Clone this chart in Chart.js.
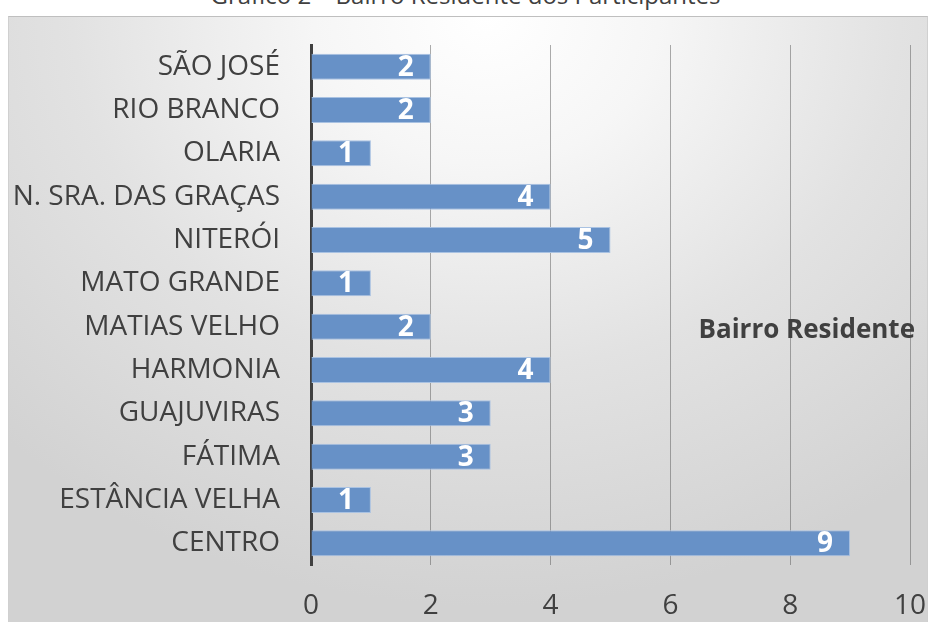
<!DOCTYPE html>
<html>
<head>
<meta charset="utf-8">
<script src="https://cdn.jsdelivr.net/npm/chart.js@4"></script>
<style>
  html, body { margin:0; padding:0; width:931px; height:622px; overflow:hidden; background:#fff; }
  #titulo { position:absolute; left:0; width:931px; top:-22px; text-align:center;
    font-family:"Open Sans", sans-serif; font-size:24px; color:#404040; }
  #fundo { position:absolute; left:8px; top:16px; width:918px; height:620px;
    border-top:1px solid #bfbfbf; border-left:1px solid #d0d0d0; border-right:1px solid #d0d0d0;
    background: radial-gradient(ellipse 75% 95% at 52% 0%, #ffffff 0%, #f6f6f6 25%, #e2e2e2 60%, #d2d2d2 100%); }
  #wrap { position:absolute; left:0; top:0; width:931px; height:622px; }
</style>
</head>
<body>
<div id="titulo">Gráfico 2 – Bairro Residente dos Participantes</div>
<div id="fundo"></div>
<div id="wrap"><canvas id="grafico"></canvas></div>
<script>
document.addEventListener('DOMContentLoaded', function(){

  // dados
  const bairros = [
    'SÃO JOSÉ',
    'RIO BRANCO',
    'OLARIA',
    'N. SRA. DAS GRAÇAS',
    'NITERÓI',
    'MATO GRANDE',
    'MATIAS VELHO',
    'HARMONIA',
    'GUAJUVIRAS',
    'FÁTIMA',
    'ESTÂNCIA VELHA',
    'CENTRO'
  ];
  const participantes = [2, 2, 1, 4, 5, 1, 2, 4, 3, 3, 1, 9];
  const serieNome = 'Bairro Residente';
  const eixoMin = 0, eixoMax = 10, eixoPasso = 2;

  // rotulos dentro das barras + legenda
  const rotulos = {
    id: 'rotulos',
    afterDatasetsDraw(chart){
      const ctx = chart.ctx;
      const meta = chart.getDatasetMeta(0);
      ctx.save();
      ctx.fillStyle = '#ffffff';
      ctx.font = 'bold 28px "Open Sans", sans-serif';
      ctx.textAlign = 'right';
      ctx.textBaseline = 'middle';
      meta.data.forEach((bar, i) => {
        ctx.fillText(chart.data.datasets[0].data[i], bar.x - 17, bar.y + 1);
      });
      const a = chart.chartArea;
      ctx.fillStyle = '#404040';
      ctx.font = 'bold 26px "Open Sans", sans-serif';
      ctx.fillText(chart.data.datasets[0].label, a.right + 5, a.top + (a.bottom - a.top) * 0.55);
      ctx.restore();
    }
  };

  const config = {
    type: 'bar',
    data: {
      labels: bairros,
      datasets: [{
        label: serieNome,
        data: participantes,
        backgroundColor: '#6791c7',
        borderColor: '#a9c2e2',
        borderWidth: 1,
        categoryPercentage: 0.6,
        barPercentage: 1
      }]
    },
    options: {
      indexAxis: 'y',
      responsive: true,
      maintainAspectRatio: false,
      animation: false,
      layout: { padding: { left: 0, right: 21, top: 45, bottom: 0 } },
      plugins: {
        legend: { display: false },
        tooltip: { enabled: false }
      },
      scales: {
        x: {
          min: eixoMin,
          max: eixoMax,
          ticks: {
            stepSize: eixoPasso,
            color: '#404040',
            padding: 24,
            font: { family: '"Open Sans", sans-serif', size: 28 }
          },
          grid: { color: 'rgba(90,90,90,0.5)', lineWidth: 1, drawTicks: false },
          border: { display: false },
          afterFit: function(s){ s.height = 57; s.paddingLeft = 0; s.paddingRight = 0; }
        },
        y: {
          ticks: {
            color: '#404040',
            padding: 31,
            font: { family: '"Open Sans", sans-serif', size: 28 }
          },
          grid: { display: false, drawTicks: false },
          border: { display: true, color: '#404040', width: 3 },
          afterFit: function(s){ s.width = 311; s.paddingTop = 0; s.paddingBottom = 0; }
        }
      }
    },
    plugins: [rotulos]
  };

  new Chart(document.getElementById('grafico'), config);

});
</script>
</body>
</html>
